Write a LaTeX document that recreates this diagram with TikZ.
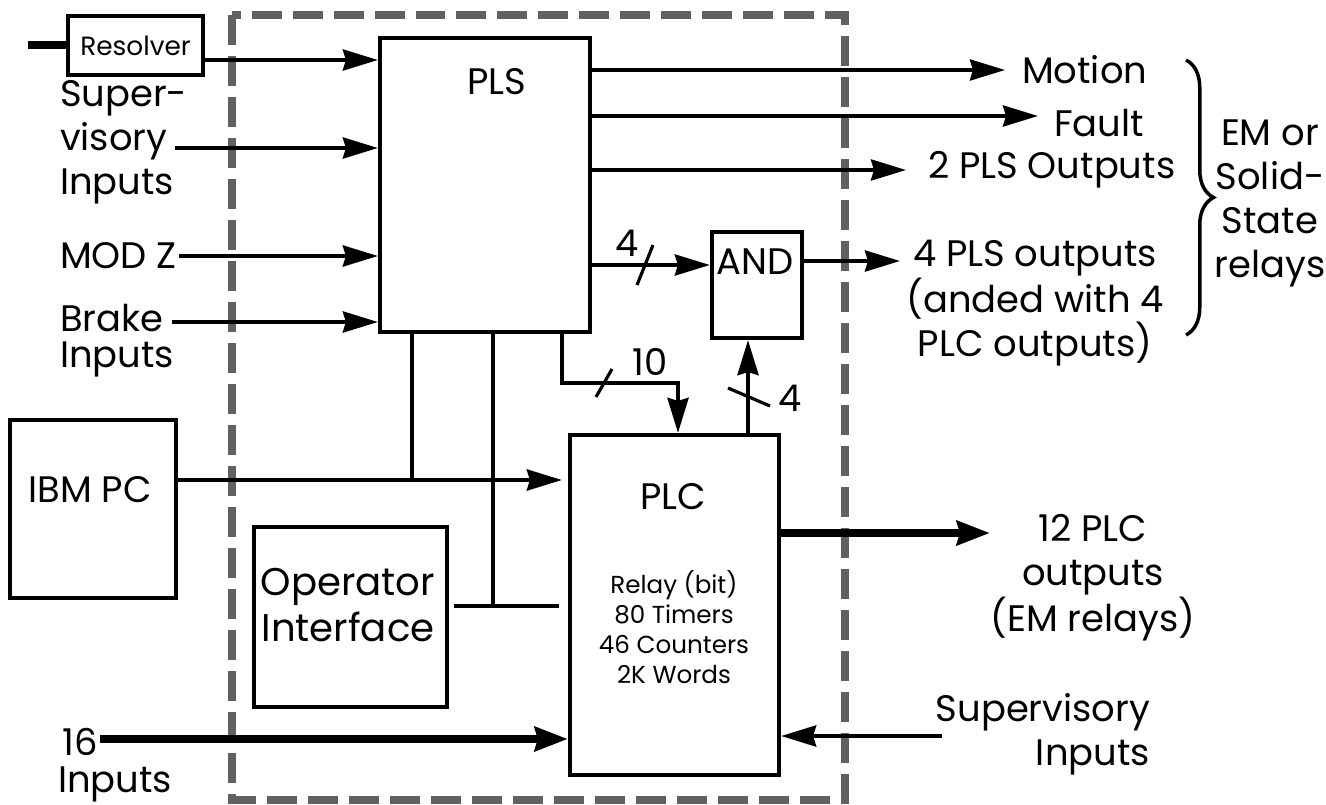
\documentclass[tikz,border=0pt]{standalone}
\usepackage{fontspec}
\setmainfont{Poppins}
\usetikzlibrary{arrows.meta,fit,decorations.pathreplacing}
\begin{document}
\begin{tikzpicture}[x=0.02cm,y=-0.02cm,
  blk/.style={draw, line width=2.4pt, inner sep=0pt},
  conn/.style={line width=2.2pt},
  tip/.style={-{Stealth[length=0.7cm,width=0.42cm,inset=0.06cm]}},
  arr/.style={conn, tip},
  fat/.style={line width=4.6pt},
  fatarr/.style={fat, -{Stealth[length=0.66cm,width=0.48cm,inset=0.06cm]}},
  dashbox/.style={draw=black!62, line width=4.6pt, dash pattern=on 0.6cm off 0.22cm},
  big/.style={font=\fontsize{21}{25}\selectfont, inner sep=1pt},
  mid/.style={font=\fontsize{15}{18}\selectfont, inner sep=1pt},
  small/.style={font=\fontsize{14}{17}\selectfont, inner sep=1pt},
  bar/.style={line width=1.8pt}]
\useasboundingbox (0,0) rectangle (1326,805);

% dashed enclosure
\draw[dashbox] (232,15) rectangle (845,800);

% boxes
\node[blk, fit={(68,16)(203,75)}] (res) {};
\node[mid] at (res.center) {Resolver};
\node[blk, fit={(380,38)(590,332)}] (pls) {};
\node[big] at (497,82) {PLS};
\node[blk, fit={(712,232)(802,338)}] (and) {};
\node[big] at (755,262) {AND};
\node[blk, fit={(570,435)(779,775)}] (plc) {};
\node[big] at (673,497) {PLC};
\node[small, align=center] at (674,627) {Relay (bit)\\80 Timers\\46 Counters\\2K Words};
\node[blk, fit={(10,420)(176,598)}] (ibm) {};
\node[big] at (90,490) {IBM PC};
\node[blk, fit={(254,527)(447,707)}] (op) {};
\node[big, align=center, font=\fontsize{22}{26}\selectfont] at (348,605) {Operator\\Interface};

% left inputs
\coordinate (resin) at (28,45);
\draw[fat] (resin) -- (res.west |- resin);
\draw[arr] (res.east |- 0,60) -- (pls.west |- 0,60);

\node[big, align=left, anchor=west] (sup1) at (58,142) {Super-\\visory\\Inputs};
\draw[arr] (175,148) -- (pls.west |- 0,148);

\node[big, anchor=west] (modz) at (58,256) {MOD Z};
\draw[arr] (modz.east) -- (pls.west |- modz.east);

\node[big, align=left, anchor=west, font=\fontsize{21}{20.5}\selectfont] (brake) at (58,341) {Brake\\Inputs};
\draw[arr] (172,322) -- (pls.west |- 0,322);

% PLS outputs
\node[big, anchor=west] (motion) at (1020,70) {Motion};
\draw[arr] (pls.east |- motion.west) -- ([xshift=-0.3cm]motion.west);
\node[big, anchor=east] (fault) at (1146,123) {Fault};
\draw[arr] (pls.east |- 0,116) -- (1038,116);
\node[big, anchor=west] (two) at (926,170) {2 PLS Outputs};
\draw[arr] (pls.east |- two.west) -- ([xshift=-0.4cm]two.west);

% AND
\draw[arr] (pls.east |- 0,265) -- (and.west |- 0,265);
\draw[bar] (637,285) -- (653,245);
\node[big] at (627,243) {4};
\node[big, align=center, anchor=north] (four) at (1035,238) {4 PLS outputs\\(anded with 4\\PLC outputs)};
\draw[arr] (and.east |- 0,261) -- (900,261);

% brace and relay label
\draw[line width=2pt, decorate, decoration={brace, amplitude=0.55cm}] (1186,60) -- (1186,335);
\node[big, align=center] at (1270,203) {EM or\\Solid-\\State\\relays};

% PLS -> PLC (10)
\draw[arr] (pls.south -| 562,0) -- (562,383) -- (678,383) -- (plc.north -| 678,0);
\draw[bar] (596,397) -- (612,369);
\node[big] at (650,362) {10};

% PLC -> AND (4)
\draw[arr] (plc.north -| 748,0) -- (and.south -| 748,0);
\draw[bar] (728,388) -- (770,406);
\node[big] at (790,398) {4};

% bus lines
\draw[conn] (pls.south -| 412,0) -- (412,480);
\draw[conn] (pls.south -| 493,0) -- (493,606);
\draw[arr, shorten >=0.12cm] (ibm.east |- 0,480) -- (plc.west |- 0,480);
\draw[conn, shorten <=0.1cm, shorten >=0.18cm] (op.east |- 0,606) -- (plc.west |- 0,606);

% 16 inputs
\node[big, anchor=east] (sixteen) at (100,742) {16};
\node[big, anchor=west] at (56,784) {Inputs};
\draw[fatarr] (sixteen.east |- 0,739) -- (plc.west |- 0,739);

% PLC outputs
\node[big, align=center] (out12) at (1093,578) {12 PLC\\outputs\\(EM relays)};
\draw[fatarr] (plc.east |- 0,533) -- (990,533);

\node[big, align=right, anchor=east] (sup2) at (1152,734) {Supervisory\\Inputs};
\draw[arr] (942,736) -- (plc.east |- 0,736);
\end{tikzpicture}
\end{document}
